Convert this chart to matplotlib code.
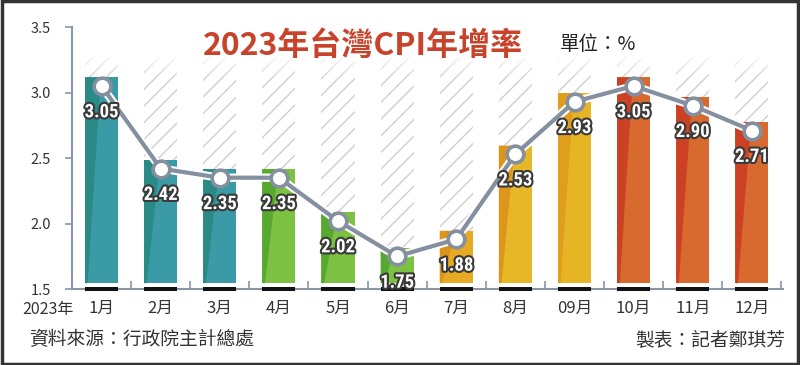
import matplotlib
matplotlib.use("Agg")
import matplotlib.pyplot as plt
import matplotlib.patheffects as pe
from matplotlib import font_manager
from matplotlib.patches import Polygon, Rectangle
import numpy as np

plt.rcParams['font.family'] = ['Noto Sans CJK TC', 'DejaVu Sans']
plt.rcParams['hatch.linewidth'] = 1.0

months = ["1月", "2月", "3月", "4月", "5月", "6月", "7月", "8月", "09月", "10月", "11月", "12月"]
cpi = [3.05, 2.42, 2.35, 2.35, 2.02, 1.75, 1.88, 2.53, 2.93, 3.05, 2.90, 2.71]
dark_cols = ["#2a8a86", "#2a8a86", "#2a8a86", "#56a830", "#56a830", "#56a830",
             "#dc951a", "#de961a", "#df9e1c", "#cc4123", "#cc4123", "#cc4123"]
light_cols = ["#3a9ba6", "#3a9ba6", "#3a9ba6", "#7cc142", "#7cc142", "#7cc142",
              "#e6ab22", "#e6b726", "#e5b526", "#d8692f", "#d8692f", "#d8692f"]

names = {f.name for f in font_manager.fontManager.ttflist}
num_font = next((n for n in ["Roboto Condensed", "DejaVu Sans Condensed", "Liberation Sans Narrow",
                             "Roboto"] if n in names), "DejaVu Sans")

base = 1.545
bar_extra = 0.065
hatch_top = 3.27
w = 0.56

fig = plt.figure(figsize=(8, 3.65), dpi=100)
ax = fig.add_axes([0.09, 0.208, 0.889, 0.718])
x = np.arange(len(months))

# hatched background columns
ax.bar(x, hatch_top - base, bottom=base, width=w, color="white",
       edgecolor="#cfcfcf", hatch="//", linewidth=0, zorder=1)
# fade top of hatched columns
grad = np.ones((100, 2, 4))
grad[:, :, 3] = np.linspace(1, 0, 100)[:, None]
ax.imshow(grad, extent=(-0.5, 11.53, 3.1, 3.3), origin="upper", aspect="auto", zorder=1.5,
          interpolation="bilinear")

# coloured bars with a darker diagonal part
tops = [v + bar_extra for v in cpi]
ax.bar(x, [t - base for t in tops], bottom=base, width=w, color=light_cols, linewidth=0, zorder=2)
for xi, t, c in zip(x, tops, dark_cols):
    left = xi - w / 2
    ax.add_patch(Polygon([(left, base), (left, t), (left + 0.48 * w, t), (left + 0.08 * w, base)],
                         closed=True, color=c, linewidth=0, zorder=2.1))
# black strips sitting on the axis line
ax.bar(x, 0.03, bottom=1.488, width=w, color="#111111", linewidth=0, zorder=3, clip_on=False)

# line with markers
ax.plot(x, cpi, color="#848fa0", lw=3, zorder=3,
        path_effects=[pe.Stroke(linewidth=6, foreground="white"), pe.Normal()])
ax.plot(x, cpi, ls="none", marker="o", ms=12, mfc="white", mec="#848fa0", mew=2.6, zorder=4)

for xi, v in zip(x, cpi):
    ax.annotate(f"{v:.2f}", (xi, v), xytext=(0, -19), textcoords="offset points",
                ha="center", va="center", color="white", fontsize=13.5, fontweight="bold",
                family=[num_font, "DejaVu Sans"], zorder=5,
                path_effects=[pe.withStroke(linewidth=3, foreground="#3a3a3a")])

ax.set_xlim(-0.5, 11.53)
ax.set_ylim(1.5, 3.5)
ax.set_yticks([1.5, 2.0, 2.5, 3.0, 3.5])
ax.set_yticklabels(["1.5", "2.0", "2.5", "3.0", "3.5"])
ax.set_xticks(x)
ax.set_xticklabels(months)
ax.set_xticks(np.arange(0.5, 11.6, 1), minor=True)
ax.tick_params(axis="x", which="major", length=0, pad=8, labelsize=12, labelcolor="#333333")
ax.tick_params(axis="x", which="minor", direction="in", length=6, width=1.2, color="#8a95a5")
ax.tick_params(axis="y", length=5, width=1.2, color="#8a95a5", labelsize=10.5,
               labelcolor="#333333", pad=10)
for s in ["top", "right"]:
    ax.spines[s].set_visible(False)
for s in ["left", "bottom"]:
    ax.spines[s].set_color("#8a95a5")
    ax.spines[s].set_linewidth(1.5)

fig.text(0.454, 0.875, "2023年台灣CPI年增率", color="#c8432b", fontsize=23, fontweight="bold",
         ha="center", va="center")
fig.text(0.70, 0.877, "單位：%", color="#222222", fontsize=14, ha="left", va="center")
fig.text(0.06, 0.151, "2023年", color="#333333", fontsize=11.5, ha="center", va="center")
fig.text(0.037, 0.069, "資料來源：行政院主計總處", color="#333333", fontsize=13.5, ha="left", va="center")
fig.text(0.982, 0.069, "製表：記者鄭琪芳", color="#333333", fontsize=13.5, ha="right", va="center")

fig.patches.append(Rectangle((0.002, 0.004), 0.996, 0.992, transform=fig.transFigure,
                             fill=False, edgecolor="#333333", linewidth=2.5))

fig.savefig("out.png", dpi=100)
